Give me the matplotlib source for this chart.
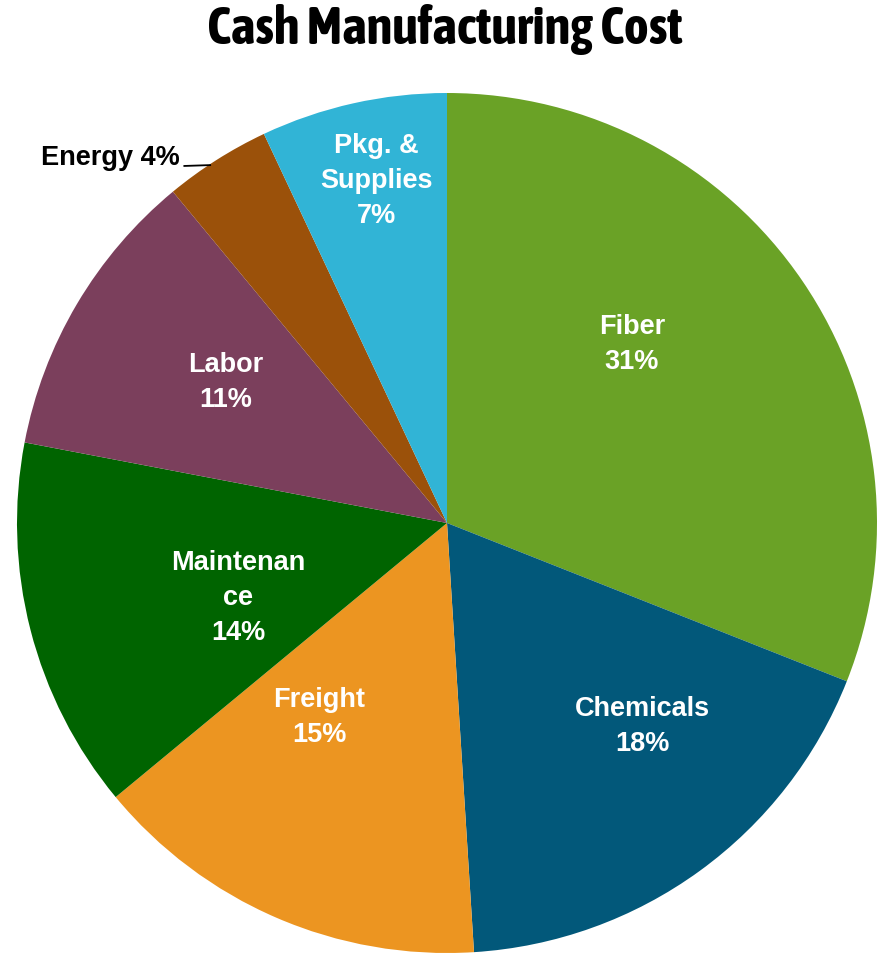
import numpy as np
import matplotlib
matplotlib.use("Agg")
import matplotlib.pyplot as plt
from matplotlib import font_manager

# cost shares, clockwise from 12 o'clock
categories = ["Fiber", "Chemicals", "Freight", "Maintenance", "Labor", "Energy", "Pkg. & Supplies"]
label_text = ["Fiber", "Chemicals", "Freight", "Maintenan\nce", "Labor", "Energy", "Pkg. &\nSupplies"]
shares = [31, 18, 15, 14, 11, 4, 7]
colors = ["#6AA226", "#02587A", "#EC9521", "#006400", "#7B3F5C", "#9B510A", "#31B4D6"]

# label placement: radial distance and angular nudge (deg) per slice
label_r = [0.60, 0.655, 0.54, 0.515, 0.61, None, 0.815]
label_shift = [10, 8, -10, 5, -2, 0, -1]

fig = plt.figure(figsize=(8.81, 9.54), dpi=100)
ax = fig.add_axes([17 / 881, 0, 860 / 881, 860 / 954])

wedges, _ = ax.pie(shares, colors=colors, startangle=90, counterclock=False,
                   radius=1.0, wedgeprops=dict(linewidth=0))
ax.set_xlim(-1, 1)
ax.set_ylim(-1, 1)
ax.set_aspect("equal")
ax.axis("off")

lab_font = dict(family="Liberation Sans", weight="bold", fontsize=19.5)

for w, txt, val, r, sh in zip(wedges, label_text, shares, label_r, label_shift):
    mid = np.deg2rad((w.theta1 + w.theta2) / 2 + sh)
    if r is None:
        # small slice: label outside with a leader line to the rim
        ex, ey = np.cos(mid), np.sin(mid)
        ax.plot([ex - 0.015, ex - 0.075], [ey - 0.012, ey - 0.014], color="black",
                lw=1.3, clip_on=False)
        ax.text(ex - 0.085, ey + 0.006, f"{txt} {val}%", ha="right", va="center",
                color="black", **lab_font)
        continue
    ax.text(r * np.cos(mid), r * np.sin(mid), f"{txt}\n{val}%", ha="center",
            va="center", color="white", linespacing=1.45, **lab_font)

# narrow bold face for the heading if one is available
bold_narrow = [f.name for f in font_manager.fontManager.ttflist
               if ("Condensed" in f.name or "Narrow" in f.name
                   or "condensed" in str(f.stretch)) and f.weight in (700, "bold")]
title_family = sorted(set(bold_narrow))[0] if bold_narrow else "DejaVu Sans"
fig.text(0.505, 0.969, "Cash Manufacturing Cost", ha="center", va="center",
         family=title_family, weight="bold", stretch="condensed", fontsize=38)

fig.savefig("out.png", dpi=100, facecolor="white")
